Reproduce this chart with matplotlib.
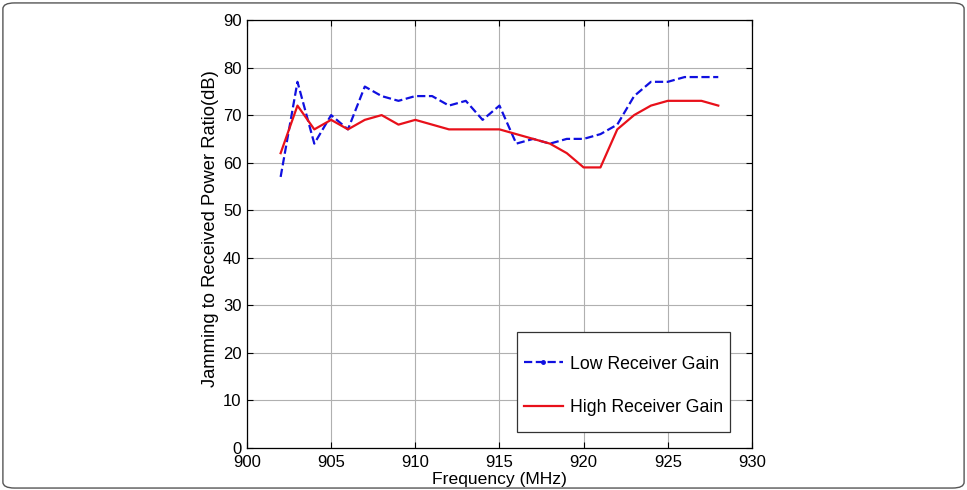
import matplotlib
matplotlib.use("Agg")
import matplotlib.pyplot as plt
from matplotlib.patches import FancyBboxPatch, Rectangle

freq = list(range(902, 929))
low_gain = [57, 77, 64, 70, 67, 76, 74, 73, 74, 74, 72, 73, 69, 72,
            64, 65, 64, 65, 65, 66, 68, 74, 77, 77, 78, 78, 78]
high_gain = [62, 72, 67, 69, 67, 69, 70, 68, 69, 68, 67, 67, 67, 67,
             66, 65, 64, 62, 59, 59, 67, 70, 72, 73, 73, 73, 72]
xticks = [900, 905, 910, 915, 920, 925, 930]
yticks = list(range(0, 91, 10))

plt.rcParams['font.family'] = ['Liberation Sans', 'DejaVu Sans']
plt.rcParams['font.size'] = 12

fig = plt.figure(figsize=(9.67, 4.9), dpi=100)
border = FancyBboxPatch((0.003, 0.004), 0.994, 0.99, boxstyle="round,pad=0,rounding_size=0.012",
                        transform=fig.transFigure, fill=False, edgecolor='#555555', linewidth=1.0)
fig.patches.append(border)

ax = fig.add_axes([0.2554, 0.0857, 0.5222, 0.8735])
ax.plot(freq, low_gain, color='#1010e0', linestyle='--', linewidth=1.6,
        label='Low Receiver Gain')
ax.plot(freq, high_gain, color='#e8101a', linestyle='-', linewidth=1.6,
        label='High Receiver Gain')

ax.set_xlim(900, 930)
ax.set_ylim(0, 90)
ax.set_xticks(xticks)
ax.set_yticks(yticks)
ax.grid(True, color='#b0b0b0', linewidth=0.8)
ax.set_axisbelow(True)
ax.tick_params(direction='in', top=True, right=True, length=4, labelsize=12)
ax.tick_params(axis='x', pad=5)
ax.tick_params(axis='y', pad=4)
for s in ax.spines.values():
    s.set_linewidth(0.9)
ax.set_xlabel('Frequency (MHz)', fontsize=12.6, labelpad=1.8)
ax.set_ylabel('Jamming to Received Power Ratio(dB)', fontsize=13.2, labelpad=2.5)
ax.yaxis.label.set_y(0.513)

# legend box (MATLAB-style frame)
ax.add_patch(Rectangle((0.5353, 0.0367), 0.4211, 0.2336, transform=ax.transAxes,
                       facecolor='white', edgecolor='#333333', linewidth=0.9, zorder=5))
leg = ax.legend(loc='center', bbox_to_anchor=(0.7458, 0.1455), frameon=False,
                handlelength=2.2, labelspacing=1.5, borderpad=0.0,
                handletextpad=0.4, borderaxespad=0, fontsize=12.7)
leg.set_zorder(6)
lh = leg.get_lines()[0]
lh.set_marker('.')
lh.set_markersize(5)
lh.set_markevery([1])

fig.savefig('out.png', dpi=100)
